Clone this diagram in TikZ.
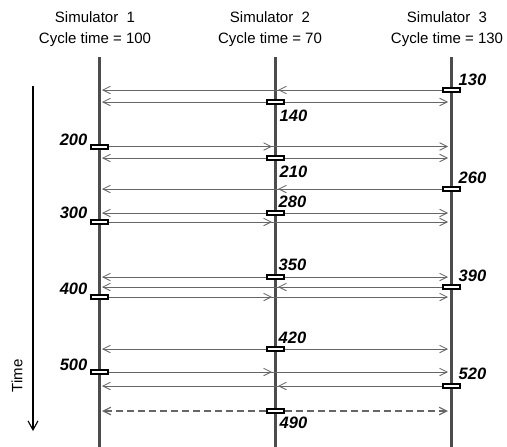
\documentclass[tikz,border=0pt]{standalone}
\usepackage{fontspec}
\setmainfont{Liberation Sans}
\usepackage{tikz}
\usetikzlibrary{arrows.meta,positioning,backgrounds,calc}

\definecolor{lifegray}{gray}{0.3}
\definecolor{msggray}{gray}{0.4}

\tikzset{
  life/.style={line width=3pt,color=lifegray},
  msg/.style={line width=0.8pt,color=msggray,-{Straight Barb[length=7.5pt,width=7.5pt]},shorten >=3pt},
  evt/.style={draw=black,fill=white,line width=2pt,minimum width=17pt,minimum height=4pt,inner sep=0pt},
  num/.style={inner sep=0pt,font=\fontsize{16.5}{16.5}\selectfont\bfseries\itshape},
  head/.style={align=center,inner sep=0pt,font=\fontsize{15}{21}\selectfont},
}

\begin{document}
\begin{tikzpicture}[x=1pt,y=-1pt]
        \useasboundingbox (0,0) rectangle (507,447);
        % headers and lifelines
        \node[head] (sim1) at (95,29) {Simulator\ \ 1\\Cycle time = 100};
        \node[head] (sim2) at (270,29) {Simulator\ \ 2\\Cycle time = 70};
        \node[head] (sim3) at (447,29) {Simulator\ \ 3\\Cycle time = 130};
        \coordinate (top1) at (99,57);  \coordinate (bot1) at (99,447);
        \coordinate (top2) at (275,57); \coordinate (bot2) at (275,447);
        \coordinate (top3) at (451,57); \coordinate (bot3) at (451,447);
        % time axis
        \coordinate (tbeg) at (33,86);
        \coordinate (tend) at (33,431);
        \draw[line width=1.1pt,-{Straight Barb[length=9pt,width=10pt]}] (tbeg) -- (tend);
        \node[rotate=90,font=\fontsize{15}{15}\selectfont] (time) at (17,376) {Time};
        % update points
        \node[evt] (b130) at (451,90) {};
        \node[evt] (b140) at (275,102) {};
        \node[evt] (b200) at (99,146.5) {};
        \node[evt] (b210) at (275,158) {};
        \node[evt] (b260) at (451,189) {};
        \node[evt] (b280) at (275,213) {};
        \node[evt] (b300) at (99,222) {};
        \node[evt] (b350) at (275,277) {};
        \node[evt] (b390) at (451,287) {};
        \node[evt] (b400) at (99,297) {};
        \node[evt] (b420) at (275,349) {};
        \node[evt] (b500) at (99,372) {};
        \node[evt] (b520) at (451,386) {};
        \node[evt] (b490) at (275,411) {};
        % time stamps
        \node[num,anchor=south west] (n130) at ([xshift=-2pt,yshift=1pt]b130.north east) {130};
        \node[num,anchor=north west] (n140) at ([xshift=-5pt,yshift=-4.5pt]b140.south east) {140};
        \node[num,anchor=south east] (n200) at ([xshift=-2pt,yshift=-2pt]b200.north west) {200};
        \node[num,anchor=north west] (n210) at ([xshift=-5pt,yshift=-4.5pt]b210.south east) {210};
        \node[num,anchor=south west] (n260) at ([xshift=-2pt,yshift=2.5pt]b260.north east) {260};
        \node[num,anchor=south west] (n280) at ([xshift=-6pt,yshift=2pt]b280.north east) {280};
        \node[num,anchor=south east] (n300) at ([xshift=-2pt,yshift=0pt]b300.north west) {300};
        \node[num,anchor=south west] (n350) at ([xshift=-6pt,yshift=3.5pt]b350.north east) {350};
        \node[num,anchor=south west] (n390) at ([xshift=-2pt,yshift=2pt]b390.north east) {390};
        \node[num,anchor=south east] (n400) at ([xshift=-2pt,yshift=-1pt]b400.north west) {400};
        \node[num,anchor=south west] (n420) at ([xshift=-6pt,yshift=2pt]b420.north east) {420};
        \node[num,anchor=south east] (n500) at ([xshift=-2pt,yshift=-2pt]b500.north west) {500};
        \node[num,anchor=south west] (n520) at ([xshift=-2pt,yshift=3pt]b520.north east) {520};
        \node[num,anchor=north west] (n490) at ([xshift=-5pt,yshift=-3pt]b490.south east) {490};
        \begin{pgfonlayer}{background}
        \draw[life] (top1) -- (bot1);
        \draw[life] (top2) -- (bot2);
        \draw[life] (top3) -- (bot3);
        % data exchange
        \draw[msg] (b130) -- (b130 -| top2);
        \draw[msg] (b130) -- (b130 -| top1);
        \draw[msg] (b140) -- (b140 -| top1);
        \draw[msg] (b140) -- (b140 -| top3);
        \draw[msg] (b200) -- (b200 -| top2);
        \draw[msg] (b200) -- (b200 -| top3);
        \draw[msg] (b210) -- (b210 -| top1);
        \draw[msg] (b210) -- (b210 -| top3);
        \draw[msg] (b260) -- (b260 -| top2);
        \draw[msg] (b260) -- (b260 -| top1);
        \draw[msg] (b280) -- (b280 -| top1);
        \draw[msg] (b280) -- (b280 -| top3);
        \draw[msg] (b300) -- (b300 -| top2);
        \draw[msg] (b300) -- (b300 -| top3);
        \draw[msg] (b350) -- (b350 -| top1);
        \draw[msg] (b350) -- (b350 -| top3);
        \draw[msg] (b390) -- (b390 -| top2);
        \draw[msg] (b390) -- (b390 -| top1);
        \draw[msg] (b400) -- (b400 -| top2);
        \draw[msg] (b400) -- (b400 -| top3);
        \draw[msg] (b420) -- (b420 -| top1);
        \draw[msg] (b420) -- (b420 -| top3);
        \draw[msg] (b500) -- (b500 -| top2);
        \draw[msg] (b500) -- (b500 -| top3);
        \draw[msg] (b520) -- (b520 -| top2);
        \draw[msg] (b520) -- (b520 -| top1);
        \draw[msg,dashed,dash pattern=on 7pt off 4pt,line width=1.2pt] (b490) -- (b490 -| top1);
        \draw[msg,dashed,dash pattern=on 7pt off 4pt,line width=1.2pt] (b490) -- (b490 -| top3);
        \end{pgfonlayer}
    \end{tikzpicture}
\end{document}
